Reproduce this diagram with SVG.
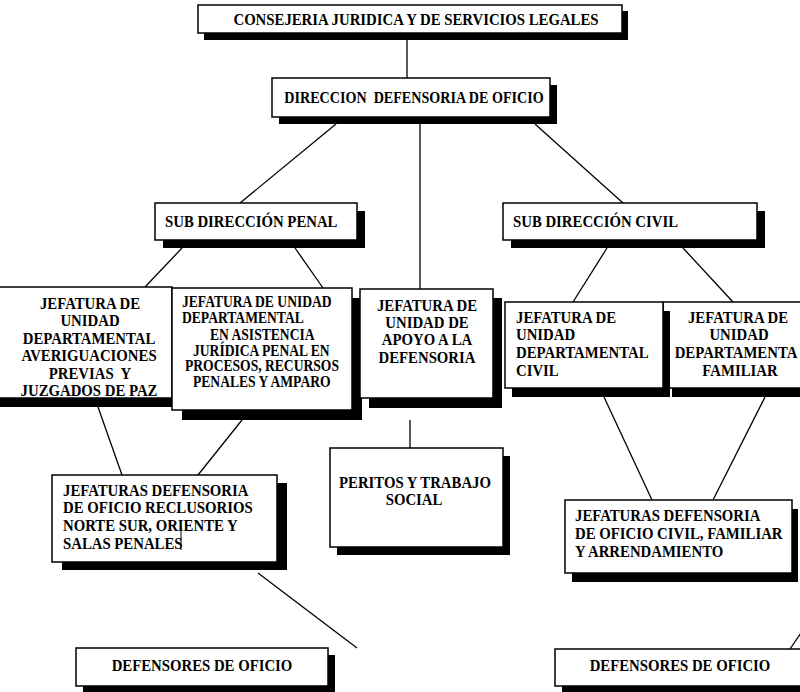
<svg xmlns="http://www.w3.org/2000/svg" width="800" height="692" viewBox="0 0 800 692">
<style>
.box{fill:#fff;stroke:#000;stroke-width:1.5}
.sh{fill:#000}
.t{font-family:"Liberation Serif","Times New Roman",serif;font-weight:bold;font-size:17px;fill:#000}
.s{font-size:16px}
.c{text-anchor:middle}
#connectors line{stroke:#000;stroke-width:1.3}
</style>
<rect width="800" height="692" fill="#fff"/>
<g id="connectors">
<line x1="407" y1="40" x2="407" y2="78"/>
<line x1="336" y1="124" x2="240" y2="203"/>
<line x1="420" y1="124" x2="420" y2="289"/>
<line x1="535" y1="124" x2="623" y2="203"/>
<line x1="182" y1="248" x2="145" y2="287"/>
<line x1="295" y1="248" x2="323" y2="288"/>
<line x1="607" y1="248" x2="573" y2="302"/>
<line x1="683" y1="248" x2="733" y2="302"/>
<line x1="98" y1="407" x2="122" y2="475"/>
<line x1="242" y1="420" x2="198" y2="475"/>
<line x1="410" y1="420" x2="410" y2="448"/>
<line x1="604" y1="397" x2="652" y2="500"/>
<line x1="765" y1="397" x2="713" y2="500"/>
<line x1="258" y1="573" x2="357" y2="648"/>
<line x1="790" y1="649" x2="801" y2="633"/>
</g>
<g id="n1">
<rect class="sh" x="204" y="11" width="424" height="29"/>
<rect class="box" x="198" y="5" width="424" height="28"/>
<text class="t c" transform="translate(416,25) scale(0.87,1)">CONSEJERIA JURIDICA Y DE SERVICIOS LEGALES</text>
</g>
<g id="n2">
<rect class="sh" x="279" y="85" width="278" height="39"/>
<rect class="box" x="272" y="78" width="278" height="39"/>
<text class="t c" transform="translate(414,103) scale(0.83,1)" xml:space="preserve">DIRECCION  DEFENSORIA DE OFICIO</text>
</g>
<g id="n3">
<rect class="sh" x="163" y="211" width="202" height="37"/>
<rect class="box" x="155" y="203" width="202" height="37"/>
<text class="t" transform="translate(165,227) scale(0.87,1)">SUB DIRECCIÓN PENAL</text>
</g>
<g id="n4">
<rect class="sh" x="511" y="211" width="254" height="37"/>
<rect class="box" x="503" y="203" width="254" height="37"/>
<text class="t" transform="translate(513,227) scale(0.87,1)">SUB DIRECCIÓN CIVIL</text>
</g>
<g id="n5">
<rect class="sh" x="-4" y="296" width="176" height="111"/>
<rect class="box" x="-4" y="287" width="176" height="111"/>
<text class="t c" transform="translate(90,309) scale(0.87,1)">JEFATURA DE</text>
<text class="t c" transform="translate(90,326) scale(0.87,1)">UNIDAD</text>
<text class="t c" transform="translate(89,343.5) scale(0.87,1)">DEPARTAMENTAL</text>
<text class="t c" transform="translate(89,361) scale(0.87,1)">AVERIGUACIONES</text>
<text class="t c" transform="translate(90,378.5) scale(0.87,1)" xml:space="preserve">PREVIAS  Y</text>
<text class="t c" transform="translate(89,396) scale(0.87,1)">JUZGADOS DE PAZ</text>
</g>
<g id="n6">
<rect class="sh" x="182" y="298" width="180" height="122"/>
<rect class="box" x="172" y="288" width="180" height="122"/>
<text class="t s" transform="translate(182,307) scale(0.85,1)">JEFATURA DE UNIDAD</text>
<text class="t s" transform="translate(182,323) scale(0.85,1)">DEPARTAMENTAL</text>
<text class="t s" transform="translate(210,339.5) scale(0.85,1)">EN ASISTENCIA</text>
<text class="t s" transform="translate(193,355.5) scale(0.85,1)">JURÍDICA PENAL EN</text>
<text class="t s" transform="translate(185,371) scale(0.85,1)">PROCESOS, RECURSOS</text>
<text class="t s" transform="translate(193,387) scale(0.85,1)">PENALES Y AMPARO</text>
</g>
<g id="n7">
<rect class="sh" x="369" y="298" width="133" height="110"/>
<rect class="box" x="360" y="289" width="133" height="109"/>
<text class="t c" transform="translate(427,311) scale(0.87,1)">JEFATURA DE</text>
<text class="t c" transform="translate(427,328) scale(0.87,1)">UNIDAD DE</text>
<text class="t c" transform="translate(427,345) scale(0.87,1)">APOYO A LA</text>
<text class="t c" transform="translate(427,363) scale(0.87,1)">DEFENSORIA</text>
</g>
<g id="n9">
<rect class="sh" x="672" y="311" width="140" height="86"/>
<rect class="box" x="663" y="302" width="145" height="86"/>
<text class="t c" transform="translate(738,323) scale(0.87,1)">JEFATURA DE</text>
<text class="t c" transform="translate(739,340) scale(0.87,1)">UNIDAD</text>
<text class="t c" transform="translate(736,358) scale(0.87,1)">DEPARTAMENTA</text>
<text class="t c" transform="translate(740,376) scale(0.87,1)">FAMILIAR</text>
</g>
<g id="n8">
<rect class="sh" x="512" y="311" width="158" height="86"/>
<rect class="box" x="505" y="302" width="158" height="86"/>
<text class="t" transform="translate(516,323) scale(0.87,1)">JEFATURA DE</text>
<text class="t" transform="translate(516,340) scale(0.87,1)">UNIDAD</text>
<text class="t" transform="translate(516,358) scale(0.87,1)">DEPARTAMENTAL</text>
<text class="t" transform="translate(516,376) scale(0.87,1)">CIVIL</text>
</g>
<g id="n10">
<rect class="sh" x="62" y="483" width="225" height="87"/>
<rect class="box" x="52" y="475" width="225" height="87"/>
<text class="t" transform="translate(63,496) scale(0.87,1)">JEFATURAS DEFENSORIA</text>
<text class="t" transform="translate(63,513) scale(0.87,1)">DE OFICIO RECLUSORIOS</text>
<text class="t" transform="translate(63,531) scale(0.87,1)">NORTE SUR, ORIENTE Y</text>
<text class="t" transform="translate(63,549) scale(0.87,1)">SALAS PENALES</text>
<line x1="181" y1="526" x2="181" y2="550" stroke="#000" stroke-width="1"/>
</g>
<g id="n11">
<rect class="sh" x="337" y="456" width="173" height="99"/>
<rect class="box" x="330" y="448" width="173" height="99"/>
<text class="t c" transform="translate(415,488) scale(0.87,1)">PERITOS Y TRABAJO</text>
<text class="t c" transform="translate(414,505) scale(0.87,1)">SOCIAL</text>
</g>
<g id="n12">
<rect class="sh" x="572" y="509" width="226" height="73"/>
<rect class="box" x="565" y="500" width="227" height="73"/>
<text class="t" transform="translate(575,521) scale(0.87,1)">JEFATURAS DEFENSORIA</text>
<text class="t" transform="translate(575,539) scale(0.87,1)">DE OFICIO CIVIL, FAMILIAR</text>
<text class="t" transform="translate(575,557) scale(0.87,1)">Y ARRENDAMIENTO</text>
</g>
<g id="n13">
<rect class="sh" x="83" y="655" width="252" height="40"/>
<rect class="box" x="76" y="648" width="252" height="38"/>
<text class="t c" transform="translate(202,671) scale(0.87,1)">DEFENSORES DE OFICIO</text>
</g>
<g id="n14">
<rect class="sh" x="562" y="656" width="250" height="40"/>
<rect class="box" x="555" y="649" width="252" height="37"/>
<text class="t c" transform="translate(680,671) scale(0.87,1)">DEFENSORES DE OFICIO</text>
</g>
</svg>
